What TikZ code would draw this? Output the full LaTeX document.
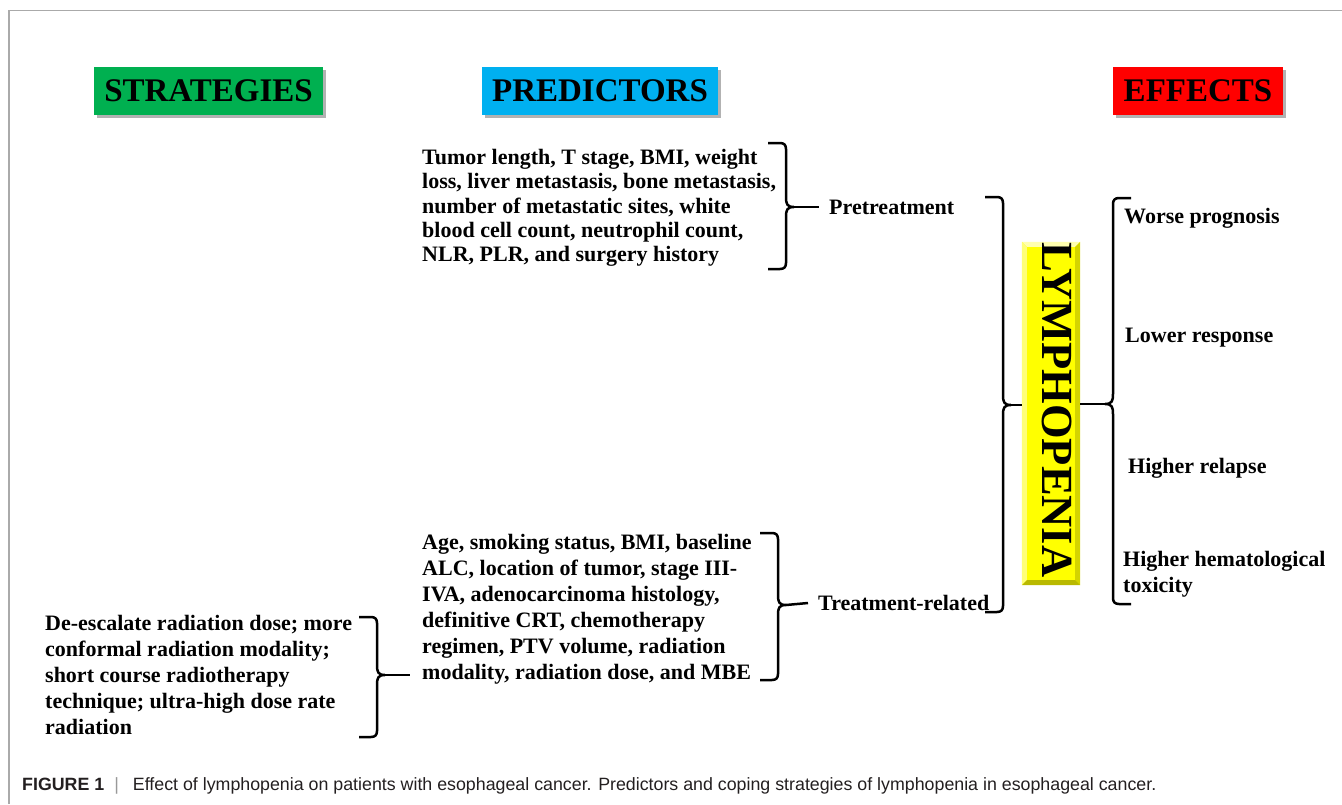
\documentclass[tikz,border=0pt]{standalone}
\usepackage{fontspec}
\setmainfont{Liberation Serif}
\setsansfont{Liberation Sans}
\usetikzlibrary{shadows}
\definecolor{hgreen}{RGB}{0,176,80}
\definecolor{hblue}{RGB}{0,176,240}
\definecolor{hred}{RGB}{255,0,0}
\definecolor{lyyellow}{RGB}{255,255,0}
\definecolor{bevtop}{RGB}{255,255,175}
\definecolor{bevleft}{RGB}{255,255,120}
\definecolor{bevright}{RGB}{212,212,0}
\definecolor{bevbot}{RGB}{185,185,0}
\definecolor{framegray}{RGB}{170,170,170}
\definecolor{captext}{RGB}{35,31,32}
\newcommand\RBr[5]{%
 \draw[bracestyle] ({#1-18},#2) -- ({#1-6},#2) .. controls ({#1-2},#2) and (#1,{#2+2}) .. (#1,{#2+6})
   -- (#1,{#3-10}) .. controls (#1,{#3-3}) and ({#1+1},#3) .. ({#1+8},#3)
   .. controls ({#1+1},#3) and (#1,{#3+3}) .. (#1,{#3+10})
   -- (#1,{#4-6}) .. controls (#1,{#4-2}) and ({#1-2},#4) .. ({#1-6},#4) -- ({#1-18},#4);
 \coordinate (#5) at ({#1+8},#3);}
\newcommand\LBr[5]{%
 \draw[bracestyle] ({#1+18},#2) -- ({#1+6},#2) .. controls ({#1+2},#2) and (#1,{#2+2}) .. (#1,{#2+6})
   -- (#1,{#3-10}) .. controls (#1,{#3-3}) and ({#1-1},#3) .. ({#1-8},#3)
   .. controls ({#1-1},#3) and (#1,{#3+3}) .. (#1,{#3+10})
   -- (#1,{#4-6}) .. controls (#1,{#4-2}) and ({#1+2},#4) .. ({#1+6},#4) -- ({#1+18},#4);
 \coordinate (#5) at ({#1-8},#3);}
\begin{document}
\begin{tikzpicture}[x=1pt,y=-1pt,
  head/.style={font=\fontsize{33}{36}\selectfont\bfseries, text=black, minimum height=48pt, inner sep=0pt,
     drop shadow={shadow xshift=3pt, shadow yshift=-3pt, fill=black, opacity=0.3}},
  body/.style={font=\fontsize{22}{24.3}\selectfont\bfseries, align=left, inner sep=0pt},
  bodyb/.style={font=\fontsize{22}{26}\selectfont\bfseries, align=left, inner sep=0pt},
  lbl/.style={font=\fontsize{22}{26}\selectfont\bfseries, align=left, inner sep=0pt},
  bracestyle/.style={line width=2.5pt, black},
  lybox/.style={fill=lyyellow, minimum width=58pt, minimum height=343pt, inner sep=0pt}]
\useasboundingbox (0,0) rectangle (1342,804);
% frame
\draw[framegray, line width=1.5pt] (9,804) -- (9,10.5) -- (1342,10.5);

% headings
\node[head, fill=hgreen, minimum width=229pt] (hstrat) at (208.5,91) {STRATEGIES};
\node[head, fill=hblue, minimum width=236pt] (hpred) at (600,91) {PREDICTORS};
\node[head, fill=hred, minimum width=170pt] (heff) at (1198,91) {EFFECTS};

% predictor blocks
\node[body, anchor=north west] (predA) at (422,149) {Tumor length, T stage, BMI, weight\\
loss, liver metastasis, bone metastasis,\\
number of metastatic sites, white\\
blood cell count, neutrophil count,\\
NLR, PLR, and surgery history};
\node[bodyb, anchor=north west] (predB) at (422,534) {Age, smoking status, BMI, baseline\\
ALC, location of tumor, stage III-\\
IVA, adenocarcinoma histology,\\
definitive CRT, chemotherapy\\
regimen, PTV volume, radiation\\
modality, radiation dose, and MBE};
\node[bodyb, anchor=north west] (strat) at (45,615) {De-escalate radiation dose; more\\
conformal radiation modality;\\
short course radiotherapy\\
technique; ultra-high dose rate\\
radiation};

\node[lbl, anchor=west] (pretreat) at (829,207) {Pretreatment};
\node[lbl, anchor=west] (treat) at (818,603) {Treatment-related};

% lymphopenia box
\node[lybox] (ly) at (1051,413.5) {};
\fill[bevtop] (ly.north west) -- (ly.north east) -- ++(-5,5) -- ([xshift=5pt,yshift=-5pt]ly.north west) -- cycle;
\fill[bevleft] (ly.north west) -- ([xshift=5pt,yshift=-5pt]ly.north west) -- ([xshift=5pt,yshift=5pt]ly.south west) -- (ly.south west) -- cycle;
\fill[bevright] (ly.north east) -- (ly.south east) -- ([xshift=-5pt,yshift=5pt]ly.south east) -- ([xshift=-5pt,yshift=-5pt]ly.north east) -- cycle;
\fill[bevbot] (ly.south west) -- (ly.south east) -- ([xshift=-5pt,yshift=5pt]ly.south east) -- ([xshift=5pt,yshift=5pt]ly.south west) -- cycle;
\node[inner sep=0pt, font=\fontsize{44.5}{46}\selectfont\bfseries] (lytext) at (1057,410) {\rotatebox{-90}{LYMPHOPENIA}};

% effects
\node[lbl, anchor=west] (e1) at (1124,218) {Worse prognosis};
\node[lbl, anchor=west] (e2) at (1125,338) {Lower response};
\node[lbl, anchor=west] (e3) at (1128,468) {Higher relapse};
\node[lbl, anchor=west] (e4) at (1123,574) {Higher hematological\\toxicity};

% braces
\RBr{786}{143}{207}{269}{tipA}
\RBr{778}{533}{605}{680}{tipB}
\RBr{377}{617}{675}{737}{tipS}
\RBr{1003}{197}{405}{612}{tipL}
\LBr{1113}{198}{404}{604}{tipE}

% connectors
\draw[bracestyle] (tipA) -- ([xshift=-10pt]pretreat.west);
\draw[bracestyle] (tipB) -- ([xshift=-10pt]treat.west);
\path (predB.west |- tipS) coordinate (stratend);
\draw[bracestyle] (tipS) -- ([xshift=-12pt]stratend);
\draw[bracestyle] (tipL) -- (ly.west |- tipL);
\draw[bracestyle] (ly.east |- tipE) -- (tipE);

% caption
\node[anchor=west, inner sep=0pt, text=captext, font=\sffamily\fontsize{17.8}{20}\selectfont] (cap) at (22,786)
  {\textbf{FIGURE 1}\hspace{10pt}{\color{gray!80}|}\hspace{14pt}Effect of lymphopenia on patients with esophageal cancer. Predictors and coping strategies of lymphopenia in esophageal cancer.};
\end{tikzpicture}
\end{document}
